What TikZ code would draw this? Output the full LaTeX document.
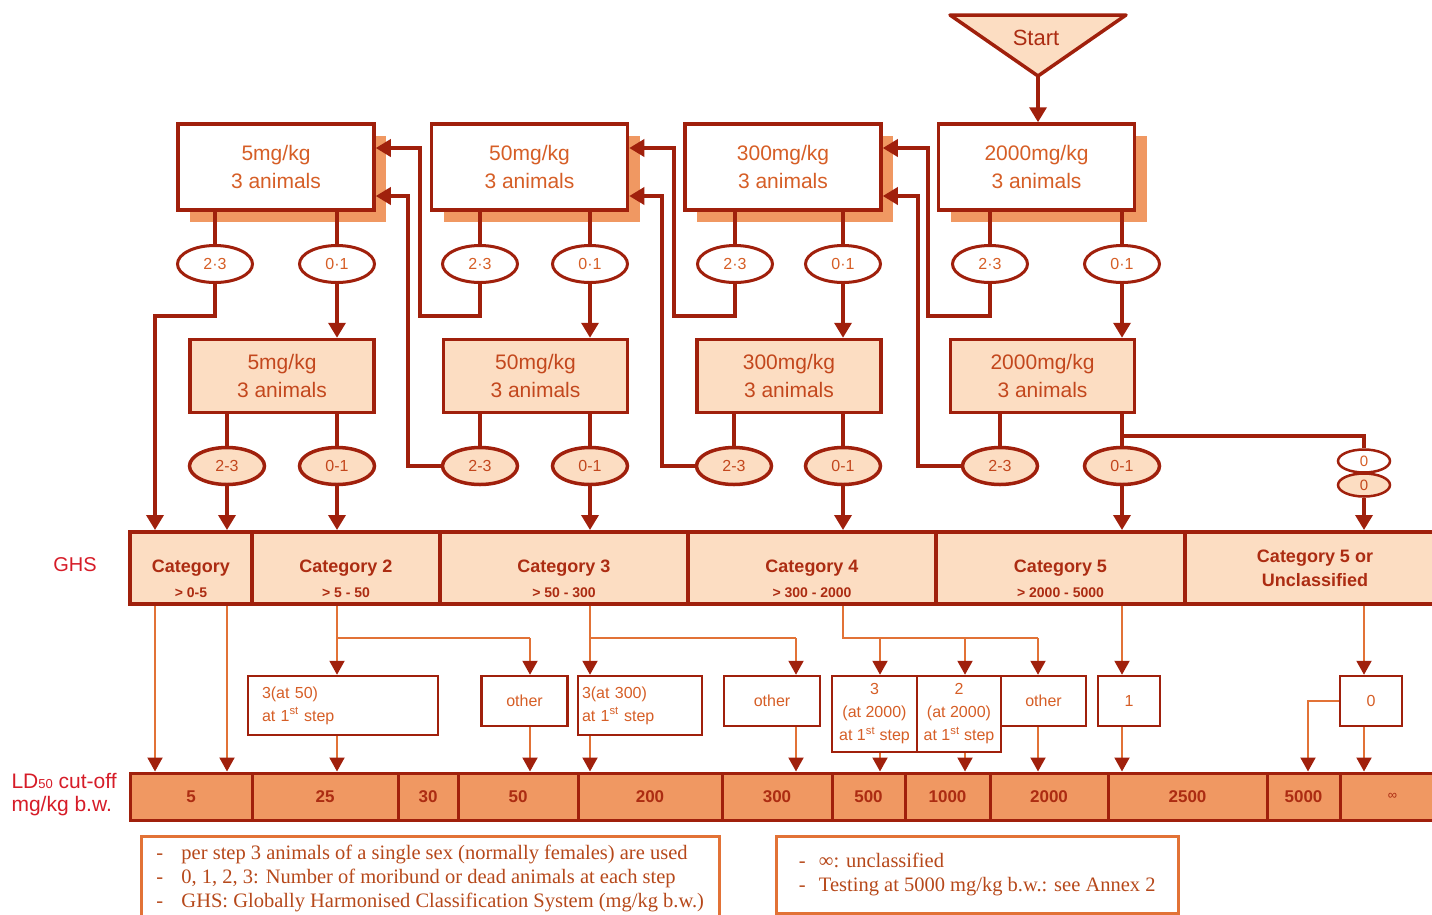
\documentclass[tikz,border=0pt]{standalone}
\usepackage{fontspec}
\setmainfont{Liberation Serif}
\setsansfont{Liberation Sans}
\usetikzlibrary{arrows.meta, positioning, calc, shapes.geometric, shadows}

\definecolor{darkred}{RGB}{160,32,12}
\definecolor{boxtext}{RGB}{214,94,38}
\definecolor{cattext}{RGB}{172,44,18}
\definecolor{peach}{RGB}{252,221,194}
\definecolor{shade}{RGB}{240,152,98}
\definecolor{wirecol}{RGB}{226,114,54}
\definecolor{ghsred}{RGB}{214,28,40}
\definecolor{notetext}{RGB}{182,72,26}

\begin{document}
\begin{tikzpicture}[
    x=1pt, y=-1pt,
    dose/.style={rectangle, draw=darkred, line width=3.5pt, fill=white, minimum width=196pt, minimum height=86pt, align=center, text=boxtext, font=\sffamily\fontsize{21}{28}\selectfont, drop shadow={shadow xshift=12pt, shadow yshift=-12pt, fill=shade, opacity=1}},
    redose/.style={rectangle, draw=darkred, line width=3.5pt, fill=peach, minimum width=184pt, minimum height=73pt, align=center, text=boxtext!55!cattext, font=\sffamily\fontsize{21}{28}\selectfont},
    outcome/.style={ellipse, draw=darkred, line width=3pt, fill=white, minimum width=75pt, minimum height=37pt, inner sep=0pt, text=boxtext, font=\sffamily\fontsize{16}{16}\selectfont},
    outcomefill/.style={outcome, fill=peach, line width=3.5pt, text=boxtext!55!cattext},
    zero/.style={outcome, line width=2.5pt, minimum width=52pt, minimum height=23pt, font=\sffamily\fontsize{15}{15}\selectfont},
    category/.style={rectangle, draw=darkred, line width=4pt, fill=peach, minimum height=72pt, align=center, inner sep=0pt, text=cattext, font=\sffamily\bfseries\fontsize{18}{24}\selectfont},
    catrange/.style={anchor=base, inner sep=0pt, text=cattext, font=\sffamily\bfseries\fontsize{14}{14}\selectfont},
    cutoff/.style={rectangle, draw=darkred, line width=3pt, fill=shade, minimum height=47pt, inner sep=0pt, text=cattext, font=\sffamily\bfseries\fontsize{17}{17}\selectfont},
    result/.style={rectangle, draw=darkred, line width=2.5pt, fill=white, align=center, inner sep=0pt, text=boxtext, font=\sffamily\fontsize{16}{23}\selectfont},
    note/.style={rectangle, draw=wirecol, line width=2.5pt, anchor=north west, align=left, text=notetext, font=\rmfamily\fontsize{20.5}{24}\selectfont},
    side/.style={text=ghsred, align=left, font=\sffamily\fontsize{20}{23}\selectfont},
    link/.style={draw=darkred, line width=3.5pt},
    arrow/.style={link, -{Triangle[length=15pt, width=17pt]}},
    wireline/.style={draw=wirecol, line width=2pt},
    wirearrow/.style={wireline, -{Triangle[length=14pt, width=15pt, color=darkred]}}
]
\useasboundingbox (0,0) rectangle (1432,914);

% Start
\draw[draw=darkred, line width=3.5pt, fill=peach, line join=round] (950,15) -- (1126,15) -- (1038,76) -- cycle;
\node[text=cattext, font=\sffamily\fontsize{22}{22}\selectfont] (start) at (1036,38) {Start};
\coordinate (apex) at (1038,76);

% First doses
\node[dose] (d5) at (276,167) {5mg/kg\\3 animals};
\node[dose, right=54pt of d5] (d50) {50mg/kg\\3 animals};
\node[dose, right=54pt of d50] (d300) {300mg/kg\\3 animals};
\node[dose, right=54pt of d300] (d2000) {2000mg/kg\\3 animals};

% Second doses
\node[redose] (r5) at (282,376) {5mg/kg\\3 animals};
\node[redose, right=66pt of r5] (r50) {50mg/kg\\3 animals};
\node[redose, right=66pt of r50] (r300) {300mg/kg\\3 animals};
\node[redose, right=66pt of r300] (r2000) {2000mg/kg\\3 animals};

% Outcomes after first dose
\node[outcome] (t5a) at (215,264) {2·3};
\node[outcome] (t5b) at (337,264) {0·1};
\node[outcome] (t50a) at (480,264) {2·3};
\node[outcome] (t50b) at (590,264) {0·1};
\node[outcome] (t300a) at (735,264) {2·3};
\node[outcome] (t300b) at (843,264) {0·1};
\node[outcome] (t2000a) at (990,264) {2·3};
\node[outcome] (t2000b) at (1122,264) {0·1};

% Outcomes after second dose
\node[outcomefill] (b5a) at (227,466) {2-3};
\node[outcomefill] (b5b) at (337,466) {0-1};
\node[outcomefill] (b50a) at (480,466) {2-3};
\node[outcomefill] (b50b) at (590,466) {0-1};
\node[outcomefill] (b300a) at (734,466) {2-3};
\node[outcomefill] (b300b) at (843,466) {0-1};
\node[outcomefill] (b2000a) at (1000,466) {2-3};
\node[outcomefill] (b2000b) at (1122,466) {0-1};
\node[zero, fill=peach, text=boxtext!55!cattext] (z2) at (1364,485) {0};
\node[zero] (z1) at (1364,461) {0};

% GHS categories
\node[side] (ghs) at (75,565) {GHS};
\node[category, minimum width=122pt] (cat1) at (191,568) {Category};
\node[category, minimum width=188pt] (cat2) at (346,568) {Category 2};
\node[category, minimum width=248pt] (cat3) at (564,568) {Category 3};
\node[category, minimum width=248pt] (cat4) at (812,568) {Category 4};
\node[category, minimum width=249pt] (cat5) at (1060.5,568) {Category 5};
\node[category, minimum width=260pt] (cat6) at (1315,568) {Category 5 or\\Unclassified};
\node[catrange] (rg1) at ([yshift=9pt]cat1.south) {> 0-5};
\node[catrange] (rg2) at ([yshift=9pt]cat2.south) {> 5 - 50};
\node[catrange] (rg3) at ([yshift=9pt]cat3.south) {> 50 - 300};
\node[catrange] (rg4) at ([yshift=9pt]cat4.south) {> 300 - 2000};
\node[catrange] (rg5) at ([yshift=9pt]cat5.south) {> 2000 - 5000};

% Number of dead animals
\node[result, minimum width=190pt, minimum height=59pt, align=left, text width=162pt] (m1) at (343,705.5) {3(at 50)\\at 1\textsuperscript{st} step};
\node[result, minimum width=86pt, minimum height=50pt] (m2) at (524.5,701) {other};
\node[result, minimum width=124pt, minimum height=59pt, align=left, text width=116pt] (m3) at (640,705.5) {3(at 300)\\at 1\textsuperscript{st} step};
\node[result, minimum width=96pt, minimum height=50pt] (m4) at (772,701) {other};
\node[result, minimum width=85pt, minimum height=76pt] (m5) at (874.5,714) {3\\(at 2000)\\at 1\textsuperscript{st} step};
\node[result, minimum width=84pt, minimum height=76pt] (m6) at (959,714) {2\\(at 2000)\\at 1\textsuperscript{st} step};
\node[result, minimum width=85pt, minimum height=50pt] (m7) at (1043.5,701) {other};
\node[result, minimum width=62pt, minimum height=50pt] (m8) at (1129,701) {1};
\node[result, minimum width=62pt, minimum height=50pt] (m9) at (1371,701) {0};

% LD50 cut-off values
\node[side, anchor=west, font=\sffamily\fontsize{21}{23}\selectfont] (ldcut) at (8,795) {LD{\fontsize{13}{13}\selectfont 50} cut-off\\mg/kg b.w.};
\node[cutoff, minimum width=122pt] (l5) at (191,796.5) {5};
\node[cutoff, minimum width=146pt] (l25) at (325,796.5) {25};
\node[cutoff, minimum width=60pt] (l30) at (428,796.5) {30};
\node[cutoff, minimum width=120pt] (l50) at (518,796.5) {50};
\node[cutoff, minimum width=144pt] (l200) at (650,796.5) {200};
\node[cutoff, minimum width=110pt] (l300) at (777,796.5) {300};
\node[cutoff, minimum width=73pt] (l500) at (868.5,796.5) {500};
\node[cutoff, minimum width=85pt] (l1000) at (947.5,796.5) {1000};
\node[cutoff, minimum width=118pt] (l2000) at (1049,796.5) {2000};
\node[cutoff, minimum width=159pt] (l2500) at (1187.5,796.5) {2500};
\node[cutoff, minimum width=73pt] (l5000) at (1303.5,796.5) {5000};
\node[cutoff, minimum width=105pt, font=\sffamily\fontsize{13}{13}\selectfont] (linf) at (1392.5,796.5) {∞};

% Notes
\node[note, minimum width=578pt, minimum height=84pt] (key1) at (140,835) {\makebox[25pt][l]{-}per step 3 animals of a single sex (normally females) are used\\\makebox[25pt][l]{-}0, 1, 2, 3: Number of moribund or dead animals at each step\\\makebox[25pt][l]{-}GHS: Globally Harmonised Classification System (mg/kg b.w.)};
\node[note, minimum width=402pt, minimum height=77pt] (key2) at (775,835) {\makebox[20pt][l]{-}∞: unclassified\\\makebox[20pt][l]{-}Testing at 5000 mg/kg b.w.: see Annex 2};

% Arrows
\draw[arrow] (apex) -- (apex |- d2000.north);
\draw[link] (d5.south -| t5a) -- (t5a.north);
\draw[link] (d5.south -| t5b) -- (t5b.north);
\draw[link] (d50.south -| t50a) -- (t50a.north);
\draw[link] (d50.south -| t50b) -- (t50b.north);
\draw[link] (d300.south -| t300a) -- (t300a.north);
\draw[link] (d300.south -| t300b) -- (t300b.north);
\draw[link] (d2000.south -| t2000a) -- (t2000a.north);
\draw[link] (d2000.south -| t2000b) -- (t2000b.north);
\draw[arrow] (t5b.south) -- (t5b.south |- r5.north);
\draw[arrow] (t50b.south) -- (t50b.south |- r50.north);
\draw[arrow] (t300b.south) -- (t300b.south |- r300.north);
\draw[arrow] (t2000b.south) -- (t2000b.south |- r2000.north);
\draw[link] (r5.south -| b5a) -- (b5a.north);
\draw[link] (r5.south -| b5b) -- (b5b.north);
\draw[link] (r50.south -| b50a) -- (b50a.north);
\draw[link] (r50.south -| b50b) -- (b50b.north);
\draw[link] (r300.south -| b300a) -- (b300a.north);
\draw[link] (r300.south -| b300b) -- (b300b.north);
\draw[link] (r2000.south -| b2000a) -- (b2000a.north);
\draw[link] (r2000.south -| b2000b) -- (b2000b.north);

% Step down to the lower dose
\coordinate (k5) at (155,316);
\coordinate (u50) at (420,316);
\coordinate (u300) at (674,316);
\coordinate (u2000) at (928,316);
\draw[arrow] (t5a.south) |- (k5) -- (k5 |- cat1.north);
\draw[arrow] (t50a.south) |- (u50) |- ([yshift=19pt]d5.east);
\draw[arrow] (t300a.south) |- (u300) |- ([yshift=19pt]d50.east);
\draw[arrow] (t2000a.south) |- (u2000) |- ([yshift=19pt]d300.east);
\coordinate (v50) at (408,466);
\coordinate (v300) at (662,466);
\coordinate (v2000) at (918,466);
\draw[arrow] (b50a.west) -- (v50) |- ([yshift=-29pt]d5.east);
\draw[arrow] (b300a.west) -- (v300) |- ([yshift=-29pt]d50.east);
\draw[arrow] (b2000a.west) -- (v2000) |- ([yshift=-29pt]d300.east);

% Into the categories
\draw[arrow] (b5a.south) -- (b5a.south |- cat1.north);
\draw[arrow] (b5b.south) -- (b5b.south |- cat2.north);
\draw[arrow] (b50b.south) -- (b50b.south |- cat3.north);
\draw[arrow] (b300b.south) -- (b300b.south |- cat4.north);
\draw[arrow] (b2000b.south) -- (b2000b.south |- cat5.north);
\coordinate (fork) at (1122,436);
\draw[link] (fork) -| (z1.north);
\draw[arrow] (z2.south) -- (z2.south |- cat6.north);

% Categories to cut-off values
\draw[wirearrow] (cat1.south -| k5) -- (k5 |- l5.north);
\draw[wirearrow] (cat1.south -| b5a) -- (b5a |- l5.north);
\coordinate (j2) at (337,638);
\coordinate (j2b) at (530,638);
\draw[wireline] (cat2.south -| j2) -- (j2) -- (j2b);
\draw[wirearrow] (j2) -- (j2 |- m1.north);
\draw[wirearrow] (j2b) -- (j2b |- m2.north);
\draw[wirearrow] (m1.south -| j2) -- (j2 |- l25.north);
\draw[wirearrow] (m2.south -| j2b) -- (j2b |- l50.north);
\coordinate (j3) at (590,638);
\coordinate (j3b) at (796,638);
\draw[wireline] (cat3.south -| j3) -- (j3) -- (j3b);
\draw[wirearrow] (j3) -- (j3 |- m3.north);
\draw[wirearrow] (j3b) -- (j3b |- m4.north);
\draw[wirearrow] (m3.south -| j3) -- (j3 |- l200.north);
\draw[wirearrow] (m4.south -| j3b) -- (j3b |- l300.north);
\coordinate (j4) at (843,638);
\coordinate (j4a) at (880,638);
\coordinate (j4b) at (965,638);
\coordinate (j4c) at (1038,638);
\draw[wireline] (cat4.south -| j4) -- (j4) -- (j4c);
\draw[wirearrow] (j4a) -- (j4a |- m5.north);
\draw[wirearrow] (j4b) -- (j4b |- m6.north);
\draw[wirearrow] (j4c) -- (j4c |- m7.north);
\draw[wirearrow] (m5.south -| j4a) -- (j4a |- l500.north);
\draw[wirearrow] (m6.south -| j4b) -- (j4b |- l1000.north);
\draw[wirearrow] (m7.south -| j4c) -- (j4c |- l2000.north);
\coordinate (j5) at (1122,638);
\draw[wirearrow] (cat5.south -| j5) -- (j5 |- m8.north);
\draw[wirearrow] (m8.south -| j5) -- (j5 |- l2500.north);
\coordinate (j6) at (1364,638);
\draw[wirearrow] (cat6.south -| j6) -- (j6 |- m9.north);
\draw[wirearrow] (m9.south -| j6) -- (j6 |- linf.north);
\coordinate (j7) at (1308,701);
\draw[wirearrow] (m9.west) -- (j7) -- (j7 |- l5000.north);

\end{tikzpicture}
\end{document}
